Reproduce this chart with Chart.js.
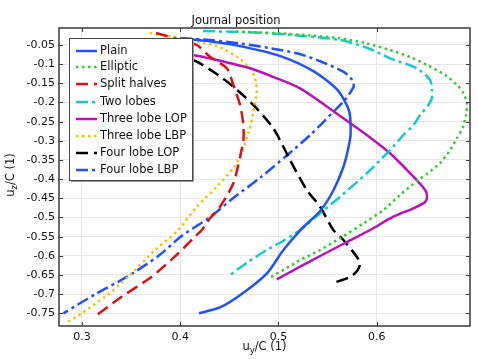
<!DOCTYPE html>
<html><head><meta charset="utf-8">
<script src="https://cdn.jsdelivr.net/npm/chart.js@4"></script>
<style>html,body{margin:0;padding:0;background:#fff}#wrap{width:478px;height:359px;position:relative}</style>
</head><body><div id="wrap"><canvas id="c" width="478" height="359"></canvas></div>
<script>
const seriesNames = ['Plain','Elliptic','Split halves','Two lobes','Three lobe LOP','Three lobe LBP','Four lobe LOP','Four lobe LBP'];

const plainX = [0.400, 0.430, 0.461, 0.502, 0.536, 0.560, 0.5717, 0.5735, 0.571, 0.566, 0.556, 0.543, 0.5224, 0.505, 0.4885, 0.464, 0.441, 0.419];
const plainY = [-0.033, -0.040, -0.053, -0.079, -0.119, -0.167, -0.220, -0.280, -0.320, -0.369, -0.429, -0.481, -0.533, -0.585, -0.645, -0.697, -0.734, -0.750];

const ellipticX = [0.4568, 0.4813, 0.5016, 0.5322, 0.5627, 0.5882, 0.6136, 0.6340, 0.6513, 0.6697, 0.6819, 0.6883, 0.6918, 0.6910, 0.6880, 0.6819, 0.6747, 0.6646, 0.6523, 0.6422, 0.6238, 0.6068, 0.5865, 0.5627, 0.5424, 0.5220, 0.5067, 0.4897];
const ellipticY = [-0.0148, -0.0174, -0.0195, -0.0252, -0.0325, -0.0448, -0.0630, -0.0813, -0.1022, -0.1283, -0.1544, -0.1752, -0.2021, -0.2326, -0.2632, -0.2926, -0.3239, -0.3579, -0.3839, -0.4022, -0.4413, -0.4805, -0.5152, -0.5543, -0.5848, -0.6109, -0.6344, -0.6587];

const splitX = [0.3754, 0.3896, 0.4168, 0.4303, 0.4474, 0.4541, 0.4609, 0.4643, 0.4643, 0.4609, 0.4541, 0.4405, 0.4303, 0.4219, 0.4130, 0.3981, 0.3710, 0.3404, 0.3150];
const splitY = [-0.0187, -0.0291, -0.0500, -0.0805, -0.1108, -0.1544, -0.2065, -0.2587, -0.2979, -0.3414, -0.4108, -0.4719, -0.5021, -0.5327, -0.5548, -0.5934, -0.6545, -0.7067, -0.7544];

const twoLobesX = [0.4232, 0.4609, 0.5016, 0.5627, 0.5933, 0.6136, 0.6408, 0.6544, 0.6561, 0.6561, 0.6526, 0.6442, 0.6374, 0.6272, 0.6136, 0.5899, 0.5627, 0.5424, 0.5220, 0.5047, 0.4881, 0.4690, 0.4507];
const twoLobesY = [-0.0135, -0.0161, -0.0213, -0.0370, -0.0604, -0.0847, -0.1108, -0.1413, -0.1674, -0.1891, -0.2065, -0.2326, -0.2587, -0.2848, -0.3239, -0.3847, -0.4458, -0.4891, -0.5327, -0.5613, -0.5848, -0.6161, -0.6500];

const threeLopX = [0.395, 0.4100, 0.4372, 0.4711, 0.4983, 0.5220, 0.5424, 0.5661, 0.5899, 0.6136, 0.6374, 0.6493, 0.6513, 0.6493, 0.6374, 0.6170, 0.5933, 0.5658, 0.5424, 0.5220, 0.4983];
const threeLopY = [-0.072, -0.0748, -0.0891, -0.1108, -0.1369, -0.1630, -0.1979, -0.2412, -0.2848, -0.3325, -0.3936, -0.4283, -0.4440, -0.4596, -0.4760, -0.4980, -0.5327, -0.5692, -0.6005, -0.6284, -0.6613];

const threeLbpX = [0.3692, 0.4049, 0.4372, 0.4575, 0.4711, 0.4762, 0.4779, 0.4744, 0.4701, 0.4575, 0.4372, 0.4168, 0.3981, 0.3743, 0.3471, 0.3234, 0.2997, 0.2860];
const threeLbpY = [-0.0187, -0.0343, -0.0526, -0.0805, -0.1108, -0.1369, -0.1718, -0.2240, -0.2744, -0.3586, -0.4197, -0.4719, -0.5327, -0.5848, -0.6545, -0.7067, -0.7500, -0.7719];

const fourLopX = [0.395, 0.4049, 0.4168, 0.4337, 0.4541, 0.4744, 0.4948, 0.5118, 0.5288, 0.5424, 0.5559, 0.5661, 0.5797, 0.5831, 0.5800, 0.5729, 0.5559];
const fourLopY = [-0.078, -0.0813, -0.0936, -0.1197, -0.1588, -0.2065, -0.2673, -0.3500, -0.4283, -0.4719, -0.5327, -0.5587, -0.6023, -0.6213, -0.6396, -0.6553, -0.6709];

const fourLbpX = [0.400, 0.430, 0.461, 0.502, 0.5224, 0.543, 0.566, 0.575, 0.5765, 0.566, 0.556, 0.5327, 0.509, 0.4816, 0.454, 0.4306, 0.402, 0.378, 0.3456, 0.315, 0.281];
const fourLbpY = [-0.032, -0.037, -0.046, -0.063, -0.074, -0.093, -0.1195, -0.141, -0.159, -0.198, -0.224, -0.284, -0.337, -0.396, -0.449, -0.499, -0.547, -0.600, -0.655, -0.698, -0.750];

const xTicks = [0.3, 0.4, 0.5, 0.6];
const yTicks = [-0.05, -0.1, -0.15, -0.2, -0.25, -0.3, -0.35, -0.4, -0.45, -0.5, -0.55, -0.6, -0.65, -0.7, -0.75];

const FONT = 'DejaVu Sans';
const BLUE = '#2050ff';

function pts(xs, ys) { return xs.map((x, i) => ({ x: x, y: ys[i] })); }
function ds(i, xs, ys, color, dash) {
  return { label: seriesNames[i], data: pts(xs, ys), showLine: true, pointRadius: 0,
    borderColor: color, backgroundColor: color, borderWidth: 2.5, borderDash: dash,
    fill: false, tension: 0.25, borderCapStyle: 'butt' };
}

const datasets = [
  ds(0, plainX, plainY, BLUE, []),
  ds(1, ellipticX, ellipticY, '#33cc33', [2.5, 3.5]),
  ds(2, splitX, splitY, '#dd1111', [12, 6]),
  ds(3, twoLobesX, twoLobesY, '#11cccc', [12, 4, 3, 4]),
  ds(4, threeLopX, threeLopY, '#bb11bb', []),
  ds(5, threeLbpX, threeLbpY, '#ffbf00', [2.5, 3.5]),
  ds(6, fourLopX, fourLopY, '#000000', [12, 6]),
  ds(7, fourLbpX, fourLbpY, BLUE, [12, 4, 3, 4])
];

function drawSub(ctx, parts, cx, y) {
  const main = '11.5px "' + FONT + '"', sub = '8.5px "' + FONT + '"';
  let w = 0;
  parts.forEach(p => { ctx.font = p.sub ? sub : main; w += ctx.measureText(p.t).width; });
  let x = cx - w / 2;
  ctx.textAlign = 'left'; ctx.textBaseline = 'alphabetic';
  parts.forEach(p => { ctx.font = p.sub ? sub : main; ctx.fillText(p.t, x, y + (p.sub ? 3 : 0)); x += ctx.measureText(p.t).width; });
}

const decor = {
  id: 'decor',
  afterDraw(chart) {
    const ctx = chart.ctx, a = chart.chartArea, xs = chart.scales.x, ys = chart.scales.y;
    ctx.save();
    // frame
    ctx.strokeStyle = '#3a3a3a'; ctx.lineWidth = 1.5;
    ctx.strokeRect(a.left, a.top, a.right - a.left, a.bottom - a.top);
    // inward ticks
    ctx.lineWidth = 1;
    ctx.beginPath();
    xTicks.forEach(v => { const p = Math.round(xs.getPixelForValue(v)) + 0.5;
      ctx.moveTo(p, a.bottom); ctx.lineTo(p, a.bottom - 4); ctx.moveTo(p, a.top); ctx.lineTo(p, a.top + 4); });
    yTicks.forEach(v => { const p = Math.round(ys.getPixelForValue(v)) + 0.5;
      ctx.moveTo(a.left, p); ctx.lineTo(a.left + 4, p); ctx.moveTo(a.right, p); ctx.lineTo(a.right - 4, p); });
    ctx.stroke();
    // title
    ctx.fillStyle = '#111';
    ctx.font = '11.5px "' + FONT + '"'; ctx.textAlign = 'center'; ctx.textBaseline = 'alphabetic';
    ctx.fillText('Journal position', 236, 24);
    // axis titles
    drawSub(ctx, [{ t: 'u' }, { t: 'y', sub: true }, { t: '/C (1)' }], (a.left + a.right) / 2, 350);
    ctx.save();
    ctx.translate(14, (a.top + a.bottom) / 2 - 2);
    ctx.rotate(-Math.PI / 2);
    drawSub(ctx, [{ t: 'u' }, { t: 'z', sub: true }, { t: '/C (1)' }], 0, 0);
    ctx.restore();
    // legend
    const lx = 69, ly = 38, lw = 123, lh = 142;
    ctx.fillStyle = '#9a9a9a'; ctx.fillRect(lx + 2, ly + 2, lw, lh);
    ctx.fillStyle = '#ffffff'; ctx.fillRect(lx, ly, lw, lh);
    ctx.strokeStyle = '#444'; ctx.lineWidth = 1; ctx.strokeRect(lx + 0.5, ly + 0.5, lw, lh);
    const rows = [51, 67, 84, 102, 119, 136, 153, 170];
    chart.data.datasets.forEach((d, i) => {
      const yy = rows[i];
      ctx.strokeStyle = d.borderColor; ctx.lineWidth = d.borderWidth; ctx.setLineDash(d.borderDash || []);
      ctx.beginPath(); ctx.moveTo(76, yy); ctx.lineTo(97, yy); ctx.stroke();
      ctx.setLineDash([]);
      ctx.fillStyle = '#111'; ctx.font = '11.5px "' + FONT + '"'; ctx.textAlign = 'left'; ctx.textBaseline = 'middle';
      ctx.fillText(d.label, 100, yy);
    });
    ctx.restore();
  }
};

new Chart(document.getElementById('c'), {
  type: 'scatter',
  data: { datasets: datasets },
  options: {
    responsive: false, devicePixelRatio: 1, animation: false,
    layout: { padding: { top: 28, right: 8, left: 0, bottom: 0 } },
    plugins: { legend: { display: false }, tooltip: { enabled: false }, title: { display: false } },
    scales: {
      x: { type: 'linear', min: 0.2766, max: 0.695,
        afterBuildTicks: s => { s.ticks = xTicks.map(v => ({ value: v })); },
        afterFit: s => { s.height = 33; },
        ticks: { font: { family: FONT, size: 11 }, color: '#111', padding: 5, maxRotation: 0, autoSkip: false,
          callback: v => String(Math.round(v * 100) / 100) },
        grid: { color: '#e6e6e6', drawTicks: false, lineWidth: 1 }, border: { display: false } },
      y: { type: 'linear', min: -0.7831, max: -0.00565,
        afterBuildTicks: s => { s.ticks = yTicks.map(v => ({ value: v })); },
        afterFit: s => { s.width = 59; },
        ticks: { font: { family: FONT, size: 11 }, color: '#111', padding: 4, autoSkip: false,
          callback: v => String(Math.round(v * 100) / 100) },
        grid: { color: '#e6e6e6', drawTicks: false, lineWidth: 1 }, border: { display: false } }
    }
  },
  plugins: [decor]
});
</script></body></html>
